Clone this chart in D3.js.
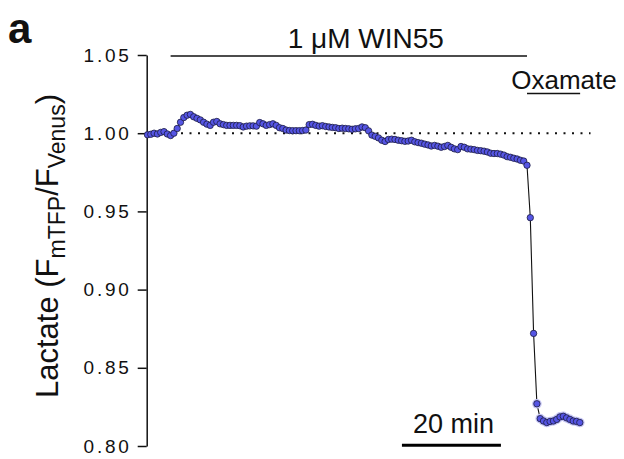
<!DOCTYPE html>
<head>
  <meta charset="utf-8">
  <script src="https://cdn.jsdelivr.net/npm/d3@7"></script>
  <style>
    body { margin:0; background:#fff; }
    text { font-family: "Liberation Sans", Arial, sans-serif; fill:#111; }
  </style>
</head>
<body>
<script>
// lactate sensor ratio, one sample every 40 s
var sampleMin = 2 / 3;
var lactate = [
  0.999, 0.9993, 1.000, 0.9995, 1.0005, 1.001, 0.9995, 0.9985, 1.000, 1.003,
  1.007, 1.010, 1.0115, 1.012, 1.0105, 1.0095, 1.0085, 1.007, 1.0058, 1.005,
  1.007, 1.0075, 1.006, 1.0055, 1.005, 1.005, 1.005, 1.005, 1.0048, 1.004,
  1.0045, 1.0047, 1.0047, 1.0045, 1.0068, 1.006, 1.005, 1.0055, 1.006, 1.005,
  1.0035, 1.003, 1.002, 1.0017, 1.0016, 1.0016, 1.0016, 1.0017, 1.002, 1.0055,
  1.0057, 1.005, 1.0045, 1.0048, 1.0043, 1.004, 1.0037, 1.0035, 1.003, 1.0032,
  1.003, 1.0028, 1.0025, 1.0028, 1.003, 1.004, 1.0035, 1.0015, 0.9988, 0.998,
  0.997, 0.9955, 0.9947, 0.996, 0.9962, 0.996, 0.9955, 0.9952, 0.9948, 0.995,
  0.9955, 0.9945, 0.994, 0.9936, 0.993, 0.9925, 0.9918, 0.9922, 0.9917, 0.991,
  0.9915, 0.9922, 0.991, 0.990, 0.9895, 0.9915, 0.991, 0.990, 0.9898, 0.9895,
  0.989, 0.9888, 0.9885, 0.988, 0.9872, 0.987, 0.987, 0.9866, 0.986, 0.985,
  0.9846, 0.984, 0.9835, 0.9827, 0.9822, 0.9795, 0.946, 0.872, 0.827, 0.8175,
  0.816, 0.815, 0.8157, 0.816, 0.817, 0.8186, 0.819, 0.818, 0.817, 0.816,
  0.8157, 0.815
];
var yTicks = [0.80, 0.85, 0.90, 0.95, 1.00, 1.05];
var win55 = [4.67, 76.67];      // minutes
var oxamate = [76.67, 87.4];
var scaleBar = [51.4, 71.4];    // 20 min
var haloFrom = 118;             // points with visible SEM halo

var width = 624, height = 459;

var svg = d3.select("body").append("svg")
  .attr("width", width)
  .attr("height", height);

var x = d3.scaleLinear().domain([0, 90]).range([147.5, 147.5 + 90 * 4.95]);
var y = d3.scaleLinear().domain([0.80, 1.05]).range([446, 55]);

var data = lactate.map(function(v, i) { return {t: i * sampleMin, v: v}; });

// y axis
var yAxis = svg.append("g")
  .attr("transform", "translate(146.7,0)")
  .call(d3.axisLeft(y).tickValues(yTicks).tickFormat(d3.format(".2f"))
    .tickSize(9).tickSizeOuter(0).tickPadding(6));
yAxis.select(".domain").attr("stroke", "#111").attr("stroke-width", 1.5);
yAxis.selectAll(".tick line").attr("stroke", "#111").attr("stroke-width", 1.5);
yAxis.selectAll(".tick text")
  .style("font-family", "'Liberation Sans', Arial, sans-serif")
  .style("font-size", "19px")
  .style("letter-spacing", "2.8px")
  .attr("fill", "#111");

// y title
var yt = svg.append("text")
  .attr("transform", "translate(58,246) rotate(-90)")
  .attr("text-anchor", "middle")
  .style("font-size", "31px");
yt.append("tspan").text("Lactate (F");
yt.append("tspan").attr("dy", 7).style("font-size", "23px").text("mTFP");
yt.append("tspan").attr("dy", -7).text("/F");
yt.append("tspan").attr("dy", 7).style("font-size", "23px").text("Venus");
yt.append("tspan").attr("dy", -7).text(")");

// panel label
svg.append("text").attr("x", 8).attr("y", 43)
  .style("font-size", "42px").style("font-weight", "bold").text("a");

// baseline
svg.append("line")
  .attr("x1", 147).attr("x2", x(89.5))
  .attr("y1", y(1)).attr("y2", y(1))
  .attr("stroke", "#111").attr("stroke-width", 2)
  .attr("stroke-dasharray", "2,6.5");

// trace
svg.append("path").datum(data)
  .attr("fill", "none").attr("stroke", "#111").attr("stroke-width", 1.1)
  .attr("d", d3.line().x(function(d) { return x(d.t); }).y(function(d) { return y(d.v); }));

svg.append("g").selectAll("circle")
  .data(data.filter(function(d, i) { return i >= haloFrom; }))
  .enter().append("circle")
  .attr("cx", function(d) { return x(d.t); })
  .attr("cy", function(d) { return y(d.v); })
  .attr("r", 4.8)
  .attr("fill", "#c4c4f4");

svg.append("g").selectAll("circle")
  .data(data)
  .enter().append("circle")
  .attr("cx", function(d) { return x(d.t); })
  .attr("cy", function(d) { return y(d.v); })
  .attr("r", 3.2)
  .attr("fill", "#5555e4")
  .attr("stroke", "#1c1c40")
  .attr("stroke-width", 0.8);

// treatment bars
svg.append("line")
  .attr("x1", x(win55[0])).attr("x2", x(win55[1]))
  .attr("y1", 56).attr("y2", 56)
  .attr("stroke", "#111").attr("stroke-width", 1.3);
svg.append("text")
  .attr("x", (x(win55[0]) + x(win55[1])) / 2 + 17).attr("y", 48)
  .attr("text-anchor", "middle").style("font-size", "28px").text("1 μM WIN55");

svg.append("line")
  .attr("x1", x(oxamate[0])).attr("x2", x(oxamate[1]))
  .attr("y1", 93.5).attr("y2", 93.5)
  .attr("stroke", "#111").attr("stroke-width", 1.3);
svg.append("text")
  .attr("x", 564).attr("y", 89)
  .attr("text-anchor", "middle").style("font-size", "26px").text("Oxamate");

// scale bar
svg.append("line")
  .attr("x1", x(scaleBar[0])).attr("x2", x(scaleBar[1]))
  .attr("y1", 445.3).attr("y2", 445.3)
  .attr("stroke", "#000").attr("stroke-width", 3);
svg.append("text")
  .attr("x", (x(scaleBar[0]) + x(scaleBar[1])) / 2 + 2).attr("y", 433)
  .attr("text-anchor", "middle").style("font-size", "27px").text("20 min");
</script>
</body>
